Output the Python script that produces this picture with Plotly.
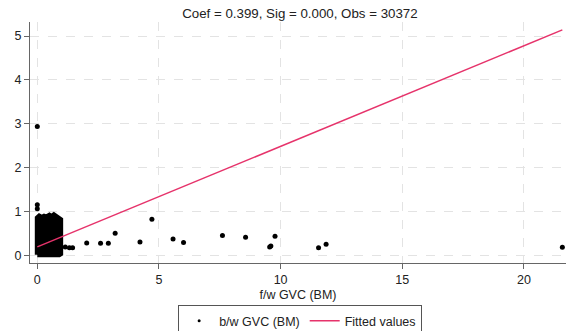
import plotly.graph_objects as go

# ---- data ----
title_text = "Coef = 0.399, Sig = 0.000, Obs = 30372"
x_title = "f/w GVC (BM)"
series_name = "b/w GVC (BM)"
fit_name = "Fitted values"

# outline of the dense cloud of observations near the origin
blob_x = [0.0, 0.0, 0.08, 0.18, 0.28, 0.38, 0.5, 0.58, 0.68, 0.78, 0.88, 0.96, 0.96, 0.9, 0.0]
blob_y = [0.02, 0.86, 0.9, 0.87, 0.9, 0.88, 0.92, 0.89, 0.93, 0.9, 0.86, 0.82, 0.04, 0.02, 0.02]

# individually visible observations
pts_x = [0.0, 0.0, 0.0, 1.15, 1.32, 1.45, 2.03, 2.6, 2.92, 3.2, 4.22, 4.71,
         5.58, 6.01, 7.61, 8.56, 9.55, 9.6, 9.77, 11.56, 11.87, 21.58]
pts_y = [2.94, 1.16, 1.07, 0.2, 0.18, 0.18, 0.29, 0.28, 0.28, 0.51, 0.31, 0.83,
         0.38, 0.30, 0.46, 0.42, 0.2, 0.22, 0.44, 0.18, 0.26, 0.19]

# fitted line endpoints
fit_x = [0.0, 21.58]
fit_y = [0.2, 5.14]

x_ticks = [0, 5, 10, 15, 20]
y_ticks = [0, 1, 2, 3, 4, 5]

fig = go.Figure()
fig.add_trace(go.Scatter(
    x=blob_x, y=blob_y, mode="lines", fill="toself", fillcolor="black",
    line=dict(color="black", width=5), showlegend=False, hoverinfo="skip"))
fig.add_trace(go.Scatter(
    x=pts_x, y=pts_y, mode="markers", name=series_name, showlegend=False,
    marker=dict(color="black", size=5)))
# legend entry for the observations (small dot as in reference)
fig.add_trace(go.Scatter(
    x=[None], y=[None], mode="markers", name=series_name,
    marker=dict(color="black", size=3)))
fig.add_trace(go.Scatter(
    x=fit_x, y=fit_y, mode="lines", name=fit_name,
    line=dict(color="#e6336b", width=1.5)))

font_family = "Liberation Sans, Arial, sans-serif"
fig.update_layout(
    width=568, height=331,
    margin=dict(l=30, r=2, t=22, b=68, autoexpand=False),
    paper_bgcolor="white", plot_bgcolor="white",
    font=dict(family=font_family, size=12, color="#222222"),
    title=dict(text=title_text, x=0.528, xanchor="center", y=0.975, yanchor="top",
               font=dict(size=13.3, color="#222222")),
    showlegend=True,
    legend=dict(orientation="h", x=0.504, xanchor="center",
                yref="container", y=0.078, yanchor="top",
                bordercolor="#555555", borderwidth=1, font=dict(size=12.5),
                itemwidth=30, traceorder="normal"),
)
fig.update_xaxes(
    range=[-0.3, 21.73], tickvals=x_ticks, showgrid=True, gridcolor="#e3e3e3",
    griddash="dash", gridwidth=1, zeroline=False, showline=True, linecolor="#666666",
    linewidth=1, ticks="outside", ticklen=5, tickcolor="#666666", automargin=False,
    tickfont=dict(size=12.5),
    title=dict(text=x_title, font=dict(size=12.5), standoff=4))
fig.update_yaxes(
    range=[-0.167, 5.32], tickvals=y_ticks, showgrid=True, gridcolor="#e3e3e3",
    griddash="dash", gridwidth=1, zeroline=False, showline=True, linecolor="#666666",
    linewidth=1, ticks="outside", ticklen=5, tickcolor="#666666", automargin=False,
    tickfont=dict(size=12.5))

fig.write_html("out.html")
